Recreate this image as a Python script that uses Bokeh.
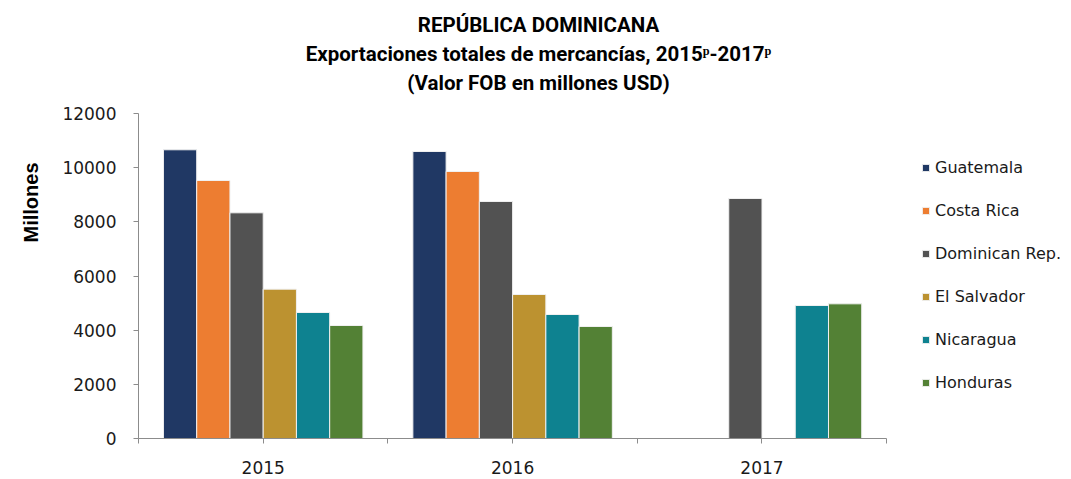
import math
from bokeh.plotting import figure
from bokeh.models import (ColumnDataSource, Legend, LegendItem, FixedTicker, Label, Range1d, Title)
from bokeh.transform import dodge
from bokeh.embed import file_html
from bokeh.resources import INLINE

years = ["2015", "2016", "2017"]
countries = ["Guatemala", "Costa Rica", "Dominican Rep.", "El Salvador", "Nicaragua", "Honduras"]
guatemala = [10660, 10597, float("nan")]
costa_rica = [9526, 9858, float("nan")]
dominican_rep = [8333, 8751, 8862]
el_salvador = [5514, 5317, float("nan")]
nicaragua = [4652, 4578, 4911]
honduras = [4172, 4135, 4972]
colors = ["#203864", "#ED7D31", "#525252", "#BC9230", "#0E8290", "#538135"]
y_ticks = [0, 2000, 4000, 6000, 8000, 10000, 12000]
title_lines = ["REPÚBLICA DOMINICANA",
               "Exportaciones totales de mercancías, 2015ᵖ-2017ᵖ",
               "(Valor FOB en millones USD)"]
y_label = "Millones"

series = [guatemala, costa_rica, dominican_rep, el_salvador, nicaragua, honduras]
keys = ["s%d" % i for i in range(len(series))]

xc = [i + 0.5 for i in range(len(years))]
data = {"x": xc}
for k, s in zip(keys, series):
    data[k] = s
src = ColumnDataSource(data)

# frame spans x 137..1071 and y 0..438; the axes cover only the data part
n = len(years)
x_end = n * 934.0 / 749.0
y_max = y_ticks[-1]
y_end = y_max * 438.0 / 325.0

p = figure(width=1071, height=479, output_backend="svg", toolbar_location=None,
           x_range=Range1d(0, x_end), y_range=Range1d(0, y_end),
           min_border_left=137, min_border_right=0, min_border_top=0, min_border_bottom=41)
p.outline_line_color = None
p.xgrid.grid_line_color = None
p.ygrid.grid_line_color = None

bw = 0.1333
items = []
for i, (k, name, c) in enumerate(zip(keys, countries, colors)):
    off = (i - 2.5) * bw
    r = p.vbar(x=dodge("x", off, range=p.x_range), top=k, width=bw, source=src,
               fill_color=c, line_color="#f0f0f0", line_width=1)
    items.append(LegendItem(label=name, renderers=[r]))

# Axes
axis_color = "#8c8c8c"
p.yaxis.bounds = (0, y_max)
p.yaxis.ticker = FixedTicker(ticks=y_ticks)
p.yaxis.axis_line_color = axis_color
p.yaxis.major_tick_line_color = axis_color
p.yaxis.major_tick_out = 5
p.yaxis.major_tick_in = 0
p.yaxis.minor_tick_line_color = None
p.yaxis.major_label_text_font = "DejaVu Sans"
p.yaxis.major_label_text_font_size = "17px"
p.yaxis.major_label_text_color = "#1a1a1a"
p.yaxis.major_label_standoff = 17

p.xaxis.bounds = (0, n)
p.xaxis.ticker = FixedTicker(ticks=xc, minor_ticks=list(range(n + 1)))
p.xaxis.major_label_overrides = {x: y for x, y in zip(xc, years)}
p.xaxis.axis_line_color = axis_color
p.xaxis.major_tick_line_color = axis_color
p.xaxis.minor_tick_line_color = axis_color
p.xaxis.major_tick_out = 5
p.xaxis.major_tick_in = 0
p.xaxis.minor_tick_out = 5
p.xaxis.minor_tick_in = 0
p.xaxis.major_label_text_font = "DejaVu Sans"
p.xaxis.major_label_text_font_size = "17px"
p.xaxis.major_label_text_color = "#1a1a1a"
p.xaxis.major_label_standoff = 17

legend = Legend(items=items, location=(783, 46), orientation="vertical",
                label_text_font="DejaVu Sans", label_text_font_size="16px",
                label_text_color="#1a1a1a", glyph_width=9, glyph_height=9,
                label_height=20, spacing=23, padding=0, margin=0,
                label_standoff=5, border_line_color=None, background_fill_alpha=0)
p.add_layout(legend, "center")

# Title lines (screen units relative to plot frame)
for txt, yy in zip(title_lines, [414, 385, 356]):
    p.add_layout(Label(x=400, y=yy, x_units="screen", y_units="screen", text=txt,
                       text_align="center", text_baseline="alphabetic",
                       text_font="Roboto", text_font_style="bold",
                       text_font_size="20.5px", text_color="#000000"))

p.add_layout(Title(text=y_label, align="left", offset=196, standoff=35,
                   text_font="Liberation Sans", text_font_style="bold",
                   text_font_size="20px", text_color="#000000"), "left")

open("out.html", "w").write(file_html(p, INLINE))
